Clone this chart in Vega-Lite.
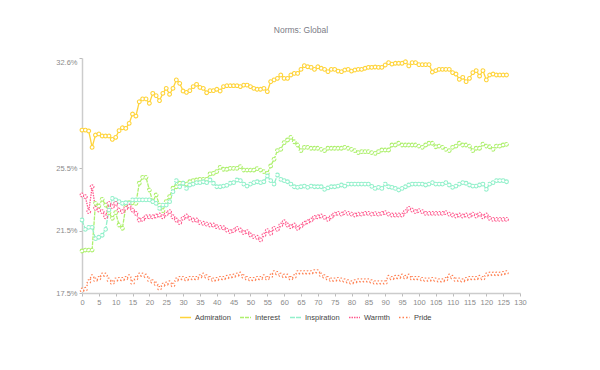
{
"$schema": "https://vega.github.io/schema/vega-lite/v6.json",
"width": 438,
"height": 235,
"autosize": {"type": "none"},
"padding": {"left": 82, "top": 58, "right": 80, "bottom": 77},
"background": "white",
"title": {"text": "Norms: Global", "fontSize": 8.5, "font": "Liberation Sans", "fontWeight": "normal", "color": "#7b7b86", "anchor": "middle", "baseline": "bottom", "offset": 14},
"config": {
  "view": {"stroke": null},
  "axis": {"grid": false, "domainColor": "#cccccc", "domainWidth": 1.5, "tickColor": "#bbbbbb", "tickSize": 3, "labelFont": "Liberation Sans", "labelFontSize": 7.5, "labelColor": "#8a8a8a", "title": null},
  "legend": {"orient": "none", "legendX": 97, "legendY": 253, "direction": "horizontal", "labelFont": "Liberation Sans", "labelFontSize": 7.5, "labelColor": "#444444", "symbolSize": 121, "symbolStrokeWidth": 1.5, "columnPadding": 6, "labelOffset": 3, "title": null}
},
"data": {"values": [
{"s":"Admiration","x":0,"v":27.97},{"s":"Admiration","x":1,"v":27.97},{"s":"Admiration","x":2,"v":27.91},{"s":"Admiration","x":3,"v":26.86},{"s":"Admiration","x":4,"v":27.65},{"s":"Admiration","x":5,"v":27.72},{"s":"Admiration","x":6,"v":27.59},{"s":"Admiration","x":7,"v":27.59},{"s":"Admiration","x":8,"v":27.59},{"s":"Admiration","x":9,"v":27.37},
{"s":"Admiration","x":10,"v":27.50},{"s":"Admiration","x":11,"v":27.93},{"s":"Admiration","x":12,"v":28.12},{"s":"Admiration","x":13,"v":28.08},{"s":"Admiration","x":14,"v":28.40},{"s":"Admiration","x":15,"v":29.00},{"s":"Admiration","x":16,"v":28.87},{"s":"Admiration","x":17,"v":29.79},{"s":"Admiration","x":18,"v":29.97},{"s":"Admiration","x":19,"v":29.97},
{"s":"Admiration","x":20,"v":29.69},{"s":"Admiration","x":21,"v":30.33},{"s":"Admiration","x":22,"v":30.18},{"s":"Admiration","x":23,"v":29.86},{"s":"Admiration","x":24,"v":30.33},{"s":"Admiration","x":25,"v":30.65},{"s":"Admiration","x":26,"v":30.27},{"s":"Admiration","x":27,"v":30.65},{"s":"Admiration","x":28,"v":31.19},{"s":"Admiration","x":29,"v":30.97},
{"s":"Admiration","x":30,"v":30.48},{"s":"Admiration","x":31,"v":30.39},{"s":"Admiration","x":32,"v":30.50},{"s":"Admiration","x":33,"v":30.76},{"s":"Admiration","x":34,"v":30.91},{"s":"Admiration","x":35,"v":30.71},{"s":"Admiration","x":36,"v":30.65},{"s":"Admiration","x":37,"v":30.37},{"s":"Admiration","x":38,"v":30.50},{"s":"Admiration","x":39,"v":30.50},
{"s":"Admiration","x":40,"v":30.59},{"s":"Admiration","x":41,"v":30.48},{"s":"Admiration","x":42,"v":30.76},{"s":"Admiration","x":43,"v":30.82},{"s":"Admiration","x":44,"v":30.82},{"s":"Admiration","x":45,"v":30.82},{"s":"Admiration","x":46,"v":30.82},{"s":"Admiration","x":47,"v":30.76},{"s":"Admiration","x":48,"v":30.86},{"s":"Admiration","x":49,"v":30.86},
{"s":"Admiration","x":50,"v":30.76},{"s":"Admiration","x":51,"v":30.65},{"s":"Admiration","x":52,"v":30.59},{"s":"Admiration","x":53,"v":30.59},{"s":"Admiration","x":54,"v":30.65},{"s":"Admiration","x":55,"v":30.44},{"s":"Admiration","x":56,"v":31.08},{"s":"Admiration","x":57,"v":31.19},{"s":"Admiration","x":58,"v":31.29},{"s":"Admiration","x":59,"v":31.51},
{"s":"Admiration","x":60,"v":31.29},{"s":"Admiration","x":61,"v":31.29},{"s":"Admiration","x":62,"v":31.51},{"s":"Admiration","x":63,"v":31.61},{"s":"Admiration","x":64,"v":31.61},{"s":"Admiration","x":65,"v":31.87},{"s":"Admiration","x":66,"v":32.11},{"s":"Admiration","x":67,"v":32.04},{"s":"Admiration","x":68,"v":32.00},{"s":"Admiration","x":69,"v":31.87},
{"s":"Admiration","x":70,"v":32.04},{"s":"Admiration","x":71,"v":31.94},{"s":"Admiration","x":72,"v":31.87},{"s":"Admiration","x":73,"v":31.72},{"s":"Admiration","x":74,"v":31.87},{"s":"Admiration","x":75,"v":31.87},{"s":"Admiration","x":76,"v":31.76},{"s":"Admiration","x":77,"v":31.72},{"s":"Admiration","x":78,"v":31.83},{"s":"Admiration","x":79,"v":31.87},
{"s":"Admiration","x":80,"v":31.76},{"s":"Admiration","x":81,"v":31.83},{"s":"Admiration","x":82,"v":31.87},{"s":"Admiration","x":83,"v":31.87},{"s":"Admiration","x":84,"v":31.94},{"s":"Admiration","x":85,"v":32.00},{"s":"Admiration","x":86,"v":32.00},{"s":"Admiration","x":87,"v":32.02},{"s":"Admiration","x":88,"v":32.00},{"s":"Admiration","x":89,"v":32.00},
{"s":"Admiration","x":90,"v":32.15},{"s":"Admiration","x":91,"v":32.30},{"s":"Admiration","x":92,"v":32.21},{"s":"Admiration","x":93,"v":32.26},{"s":"Admiration","x":94,"v":32.26},{"s":"Admiration","x":95,"v":32.26},{"s":"Admiration","x":96,"v":32.36},{"s":"Admiration","x":97,"v":32.09},{"s":"Admiration","x":98,"v":32.30},{"s":"Admiration","x":99,"v":32.30},
{"s":"Admiration","x":100,"v":32.17},{"s":"Admiration","x":101,"v":32.17},{"s":"Admiration","x":102,"v":32.17},{"s":"Admiration","x":103,"v":32.17},{"s":"Admiration","x":104,"v":31.70},{"s":"Admiration","x":105,"v":31.79},{"s":"Admiration","x":106,"v":31.87},{"s":"Admiration","x":107,"v":31.87},{"s":"Admiration","x":108,"v":31.87},{"s":"Admiration","x":109,"v":31.87},
{"s":"Admiration","x":110,"v":31.66},{"s":"Admiration","x":111,"v":31.57},{"s":"Admiration","x":112,"v":31.23},{"s":"Admiration","x":113,"v":31.36},{"s":"Admiration","x":114,"v":31.08},{"s":"Admiration","x":115,"v":31.29},{"s":"Admiration","x":116,"v":31.66},{"s":"Admiration","x":117,"v":31.79},{"s":"Admiration","x":118,"v":31.44},{"s":"Admiration","x":119,"v":31.79},
{"s":"Admiration","x":120,"v":31.19},{"s":"Admiration","x":121,"v":31.51},{"s":"Admiration","x":122,"v":31.57},{"s":"Admiration","x":123,"v":31.51},{"s":"Admiration","x":124,"v":31.51},{"s":"Admiration","x":125,"v":31.51},{"s":"Admiration","x":126,"v":31.51},

{"s":"Interest","x":0,"v":20.20},{"s":"Interest","x":1,"v":20.26},{"s":"Interest","x":2,"v":20.26},{"s":"Interest","x":3,"v":20.26},{"s":"Interest","x":4,"v":23.26},{"s":"Interest","x":5,"v":23.09},{"s":"Interest","x":6,"v":23.52},{"s":"Interest","x":7,"v":23.15},{"s":"Interest","x":8,"v":22.66},{"s":"Interest","x":9,"v":22.30},
{"s":"Interest","x":10,"v":22.66},{"s":"Interest","x":11,"v":21.87},{"s":"Interest","x":12,"v":21.66},{"s":"Interest","x":13,"v":23.05},{"s":"Interest","x":14,"v":23.30},{"s":"Interest","x":15,"v":23.30},{"s":"Interest","x":16,"v":23.26},{"s":"Interest","x":17,"v":24.55},{"s":"Interest","x":18,"v":24.93},{"s":"Interest","x":19,"v":24.93},
{"s":"Interest","x":20,"v":24.12},{"s":"Interest","x":21,"v":23.37},{"s":"Interest","x":22,"v":23.80},{"s":"Interest","x":23,"v":23.15},{"s":"Interest","x":24,"v":22.79},{"s":"Interest","x":25,"v":23.37},{"s":"Interest","x":26,"v":23.69},{"s":"Interest","x":27,"v":24.23},{"s":"Interest","x":28,"v":24.33},{"s":"Interest","x":29,"v":24.55},
{"s":"Interest","x":30,"v":24.55},{"s":"Interest","x":31,"v":24.50},{"s":"Interest","x":32,"v":24.65},{"s":"Interest","x":33,"v":24.72},{"s":"Interest","x":34,"v":24.76},{"s":"Interest","x":35,"v":24.80},{"s":"Interest","x":36,"v":24.80},{"s":"Interest","x":37,"v":24.80},{"s":"Interest","x":38,"v":25.15},{"s":"Interest","x":39,"v":25.19},
{"s":"Interest","x":40,"v":25.30},{"s":"Interest","x":41,"v":25.57},{"s":"Interest","x":42,"v":25.45},{"s":"Interest","x":43,"v":25.45},{"s":"Interest","x":44,"v":25.51},{"s":"Interest","x":45,"v":25.51},{"s":"Interest","x":46,"v":25.51},{"s":"Interest","x":47,"v":25.62},{"s":"Interest","x":48,"v":25.40},{"s":"Interest","x":49,"v":25.40},
{"s":"Interest","x":50,"v":25.40},{"s":"Interest","x":51,"v":25.40},{"s":"Interest","x":52,"v":25.49},{"s":"Interest","x":53,"v":25.40},{"s":"Interest","x":54,"v":25.30},{"s":"Interest","x":55,"v":25.19},{"s":"Interest","x":56,"v":25.66},{"s":"Interest","x":57,"v":26.09},{"s":"Interest","x":58,"v":26.65},{"s":"Interest","x":59,"v":26.73},
{"s":"Interest","x":60,"v":27.16},{"s":"Interest","x":61,"v":27.33},{"s":"Interest","x":62,"v":27.50},{"s":"Interest","x":63,"v":27.22},{"s":"Interest","x":64,"v":27.01},{"s":"Interest","x":65,"v":26.65},{"s":"Interest","x":66,"v":26.86},{"s":"Interest","x":67,"v":26.86},{"s":"Interest","x":68,"v":26.80},{"s":"Interest","x":69,"v":26.80},
{"s":"Interest","x":70,"v":26.80},{"s":"Interest","x":71,"v":26.73},{"s":"Interest","x":72,"v":26.65},{"s":"Interest","x":73,"v":26.80},{"s":"Interest","x":74,"v":26.80},{"s":"Interest","x":75,"v":26.80},{"s":"Interest","x":76,"v":26.80},{"s":"Interest","x":77,"v":26.80},{"s":"Interest","x":78,"v":26.86},{"s":"Interest","x":79,"v":26.80},
{"s":"Interest","x":80,"v":26.73},{"s":"Interest","x":81,"v":26.65},{"s":"Interest","x":82,"v":26.52},{"s":"Interest","x":83,"v":26.58},{"s":"Interest","x":84,"v":26.58},{"s":"Interest","x":85,"v":26.58},{"s":"Interest","x":86,"v":26.52},{"s":"Interest","x":87,"v":26.47},{"s":"Interest","x":88,"v":26.58},{"s":"Interest","x":89,"v":26.69},
{"s":"Interest","x":90,"v":26.69},{"s":"Interest","x":91,"v":26.69},{"s":"Interest","x":92,"v":27.01},{"s":"Interest","x":93,"v":27.01},{"s":"Interest","x":94,"v":27.12},{"s":"Interest","x":95,"v":27.01},{"s":"Interest","x":96,"v":27.01},{"s":"Interest","x":97,"v":27.01},{"s":"Interest","x":98,"v":27.01},{"s":"Interest","x":99,"v":27.01},
{"s":"Interest","x":100,"v":26.94},{"s":"Interest","x":101,"v":26.86},{"s":"Interest","x":102,"v":27.01},{"s":"Interest","x":103,"v":27.12},{"s":"Interest","x":104,"v":27.12},{"s":"Interest","x":105,"v":26.90},{"s":"Interest","x":106,"v":26.94},{"s":"Interest","x":107,"v":26.86},{"s":"Interest","x":108,"v":26.73},{"s":"Interest","x":109,"v":26.65},
{"s":"Interest","x":110,"v":26.86},{"s":"Interest","x":111,"v":26.94},{"s":"Interest","x":112,"v":27.12},{"s":"Interest","x":113,"v":27.01},{"s":"Interest","x":114,"v":27.01},{"s":"Interest","x":115,"v":26.94},{"s":"Interest","x":116,"v":26.65},{"s":"Interest","x":117,"v":26.80},{"s":"Interest","x":118,"v":26.80},{"s":"Interest","x":119,"v":27.07},
{"s":"Interest","x":120,"v":26.94},{"s":"Interest","x":121,"v":26.90},{"s":"Interest","x":122,"v":26.73},{"s":"Interest","x":123,"v":26.94},{"s":"Interest","x":124,"v":26.94},{"s":"Interest","x":125,"v":27.01},{"s":"Interest","x":126,"v":27.05},

{"s":"Inspiration","x":0,"v":22.19},{"s":"Inspiration","x":1,"v":21.59},{"s":"Inspiration","x":2,"v":21.72},{"s":"Inspiration","x":3,"v":21.72},{"s":"Inspiration","x":4,"v":20.99},{"s":"Inspiration","x":5,"v":21.08},{"s":"Inspiration","x":6,"v":21.21},{"s":"Inspiration","x":7,"v":21.59},{"s":"Inspiration","x":8,"v":22.83},{"s":"Inspiration","x":9,"v":23.58},
{"s":"Inspiration","x":10,"v":23.48},{"s":"Inspiration","x":11,"v":23.37},{"s":"Inspiration","x":12,"v":23.26},{"s":"Inspiration","x":13,"v":23.30},{"s":"Inspiration","x":14,"v":23.26},{"s":"Inspiration","x":15,"v":23.48},{"s":"Inspiration","x":16,"v":23.48},{"s":"Inspiration","x":17,"v":23.48},{"s":"Inspiration","x":18,"v":23.48},{"s":"Inspiration","x":19,"v":23.48},
{"s":"Inspiration","x":20,"v":23.48},{"s":"Inspiration","x":21,"v":23.37},{"s":"Inspiration","x":22,"v":23.26},{"s":"Inspiration","x":23,"v":22.94},{"s":"Inspiration","x":24,"v":23.15},{"s":"Inspiration","x":25,"v":23.15},{"s":"Inspiration","x":26,"v":23.37},{"s":"Inspiration","x":27,"v":24.01},{"s":"Inspiration","x":28,"v":24.72},{"s":"Inspiration","x":29,"v":24.33},
{"s":"Inspiration","x":30,"v":24.55},{"s":"Inspiration","x":31,"v":24.22},{"s":"Inspiration","x":32,"v":24.44},{"s":"Inspiration","x":33,"v":24.50},{"s":"Inspiration","x":34,"v":24.59},{"s":"Inspiration","x":35,"v":24.59},{"s":"Inspiration","x":36,"v":24.65},{"s":"Inspiration","x":37,"v":24.59},{"s":"Inspiration","x":38,"v":24.76},{"s":"Inspiration","x":39,"v":24.55},
{"s":"Inspiration","x":40,"v":24.33},{"s":"Inspiration","x":41,"v":24.33},{"s":"Inspiration","x":42,"v":24.37},{"s":"Inspiration","x":43,"v":24.42},{"s":"Inspiration","x":44,"v":24.55},{"s":"Inspiration","x":45,"v":24.59},{"s":"Inspiration","x":46,"v":24.76},{"s":"Inspiration","x":47,"v":24.72},{"s":"Inspiration","x":48,"v":24.50},{"s":"Inspiration","x":49,"v":24.37},
{"s":"Inspiration","x":50,"v":24.50},{"s":"Inspiration","x":51,"v":24.59},{"s":"Inspiration","x":52,"v":24.65},{"s":"Inspiration","x":53,"v":24.59},{"s":"Inspiration","x":54,"v":24.65},{"s":"Inspiration","x":55,"v":25.02},{"s":"Inspiration","x":56,"v":24.72},{"s":"Inspiration","x":57,"v":24.50},{"s":"Inspiration","x":58,"v":25.08},{"s":"Inspiration","x":59,"v":24.80},
{"s":"Inspiration","x":60,"v":24.72},{"s":"Inspiration","x":61,"v":24.65},{"s":"Inspiration","x":62,"v":24.50},{"s":"Inspiration","x":63,"v":24.33},{"s":"Inspiration","x":64,"v":24.29},{"s":"Inspiration","x":65,"v":24.33},{"s":"Inspiration","x":66,"v":24.37},{"s":"Inspiration","x":67,"v":24.29},{"s":"Inspiration","x":68,"v":24.37},{"s":"Inspiration","x":69,"v":24.33},
{"s":"Inspiration","x":70,"v":24.33},{"s":"Inspiration","x":71,"v":24.33},{"s":"Inspiration","x":72,"v":24.16},{"s":"Inspiration","x":73,"v":24.25},{"s":"Inspiration","x":74,"v":24.33},{"s":"Inspiration","x":75,"v":24.33},{"s":"Inspiration","x":76,"v":24.37},{"s":"Inspiration","x":77,"v":24.44},{"s":"Inspiration","x":78,"v":24.37},{"s":"Inspiration","x":79,"v":24.50},
{"s":"Inspiration","x":80,"v":24.50},{"s":"Inspiration","x":81,"v":24.50},{"s":"Inspiration","x":82,"v":24.50},{"s":"Inspiration","x":83,"v":24.50},{"s":"Inspiration","x":84,"v":24.50},{"s":"Inspiration","x":85,"v":24.50},{"s":"Inspiration","x":86,"v":24.35},{"s":"Inspiration","x":87,"v":24.22},{"s":"Inspiration","x":88,"v":24.29},{"s":"Inspiration","x":89,"v":24.22},
{"s":"Inspiration","x":90,"v":24.50},{"s":"Inspiration","x":91,"v":24.33},{"s":"Inspiration","x":92,"v":24.29},{"s":"Inspiration","x":93,"v":24.22},{"s":"Inspiration","x":94,"v":24.12},{"s":"Inspiration","x":95,"v":24.22},{"s":"Inspiration","x":96,"v":24.33},{"s":"Inspiration","x":97,"v":24.44},{"s":"Inspiration","x":98,"v":24.50},{"s":"Inspiration","x":99,"v":24.50},
{"s":"Inspiration","x":100,"v":24.50},{"s":"Inspiration","x":101,"v":24.50},{"s":"Inspiration","x":102,"v":24.44},{"s":"Inspiration","x":103,"v":24.50},{"s":"Inspiration","x":104,"v":24.59},{"s":"Inspiration","x":105,"v":24.50},{"s":"Inspiration","x":106,"v":24.50},{"s":"Inspiration","x":107,"v":24.50},{"s":"Inspiration","x":108,"v":24.59},{"s":"Inspiration","x":109,"v":24.44},
{"s":"Inspiration","x":110,"v":24.29},{"s":"Inspiration","x":111,"v":24.37},{"s":"Inspiration","x":112,"v":24.50},{"s":"Inspiration","x":113,"v":24.59},{"s":"Inspiration","x":114,"v":24.55},{"s":"Inspiration","x":115,"v":24.44},{"s":"Inspiration","x":116,"v":24.37},{"s":"Inspiration","x":117,"v":24.37},{"s":"Inspiration","x":118,"v":24.44},{"s":"Inspiration","x":119,"v":24.50},
{"s":"Inspiration","x":120,"v":24.16},{"s":"Inspiration","x":121,"v":24.50},{"s":"Inspiration","x":122,"v":24.59},{"s":"Inspiration","x":123,"v":24.72},{"s":"Inspiration","x":124,"v":24.72},{"s":"Inspiration","x":125,"v":24.72},{"s":"Inspiration","x":126,"v":24.65},

{"s":"Warmth","x":0,"v":23.80},{"s":"Warmth","x":1,"v":23.69},{"s":"Warmth","x":2,"v":22.73},{"s":"Warmth","x":3,"v":24.33},{"s":"Warmth","x":4,"v":22.94},{"s":"Warmth","x":5,"v":22.83},{"s":"Warmth","x":6,"v":22.73},{"s":"Warmth","x":7,"v":22.40},{"s":"Warmth","x":8,"v":23.26},{"s":"Warmth","x":9,"v":23.05},
{"s":"Warmth","x":10,"v":23.26},{"s":"Warmth","x":11,"v":22.83},{"s":"Warmth","x":12,"v":22.73},{"s":"Warmth","x":13,"v":22.94},{"s":"Warmth","x":14,"v":23.09},{"s":"Warmth","x":15,"v":22.83},{"s":"Warmth","x":16,"v":22.62},{"s":"Warmth","x":17,"v":22.19},{"s":"Warmth","x":18,"v":22.23},{"s":"Warmth","x":19,"v":22.40},
{"s":"Warmth","x":20,"v":22.40},{"s":"Warmth","x":21,"v":22.40},{"s":"Warmth","x":22,"v":22.45},{"s":"Warmth","x":23,"v":22.51},{"s":"Warmth","x":24,"v":22.40},{"s":"Warmth","x":25,"v":22.57},{"s":"Warmth","x":26,"v":22.73},{"s":"Warmth","x":27,"v":22.40},{"s":"Warmth","x":28,"v":22.19},{"s":"Warmth","x":29,"v":22.02},
{"s":"Warmth","x":30,"v":22.30},{"s":"Warmth","x":31,"v":22.45},{"s":"Warmth","x":32,"v":22.30},{"s":"Warmth","x":33,"v":22.19},{"s":"Warmth","x":34,"v":22.19},{"s":"Warmth","x":35,"v":22.02},{"s":"Warmth","x":36,"v":21.98},{"s":"Warmth","x":37,"v":21.93},{"s":"Warmth","x":38,"v":21.87},{"s":"Warmth","x":39,"v":21.87},
{"s":"Warmth","x":40,"v":21.76},{"s":"Warmth","x":41,"v":21.72},{"s":"Warmth","x":42,"v":21.69},{"s":"Warmth","x":43,"v":21.54},{"s":"Warmth","x":44,"v":21.44},{"s":"Warmth","x":45,"v":21.51},{"s":"Warmth","x":46,"v":21.65},{"s":"Warmth","x":47,"v":21.55},{"s":"Warmth","x":48,"v":21.38},{"s":"Warmth","x":49,"v":21.44},
{"s":"Warmth","x":50,"v":21.23},{"s":"Warmth","x":51,"v":21.12},{"s":"Warmth","x":52,"v":21.08},{"s":"Warmth","x":53,"v":20.91},{"s":"Warmth","x":54,"v":21.23},{"s":"Warmth","x":55,"v":21.51},{"s":"Warmth","x":56,"v":21.33},{"s":"Warmth","x":57,"v":21.65},{"s":"Warmth","x":58,"v":21.59},{"s":"Warmth","x":59,"v":21.87},
{"s":"Warmth","x":60,"v":22.08},{"s":"Warmth","x":61,"v":21.87},{"s":"Warmth","x":62,"v":21.76},{"s":"Warmth","x":63,"v":21.87},{"s":"Warmth","x":64,"v":21.65},{"s":"Warmth","x":65,"v":21.80},{"s":"Warmth","x":66,"v":21.98},{"s":"Warmth","x":67,"v":22.08},{"s":"Warmth","x":68,"v":22.19},{"s":"Warmth","x":69,"v":22.36},
{"s":"Warmth","x":70,"v":22.40},{"s":"Warmth","x":71,"v":22.45},{"s":"Warmth","x":72,"v":22.36},{"s":"Warmth","x":73,"v":22.23},{"s":"Warmth","x":74,"v":22.40},{"s":"Warmth","x":75,"v":22.57},{"s":"Warmth","x":76,"v":22.62},{"s":"Warmth","x":77,"v":22.57},{"s":"Warmth","x":78,"v":22.66},{"s":"Warmth","x":79,"v":22.62},
{"s":"Warmth","x":80,"v":22.57},{"s":"Warmth","x":81,"v":22.51},{"s":"Warmth","x":82,"v":22.57},{"s":"Warmth","x":83,"v":22.57},{"s":"Warmth","x":84,"v":22.62},{"s":"Warmth","x":85,"v":22.62},{"s":"Warmth","x":86,"v":22.57},{"s":"Warmth","x":87,"v":22.60},{"s":"Warmth","x":88,"v":22.57},{"s":"Warmth","x":89,"v":22.62},
{"s":"Warmth","x":90,"v":22.66},{"s":"Warmth","x":91,"v":22.57},{"s":"Warmth","x":92,"v":22.51},{"s":"Warmth","x":93,"v":22.51},{"s":"Warmth","x":94,"v":22.51},{"s":"Warmth","x":95,"v":22.51},{"s":"Warmth","x":96,"v":22.73},{"s":"Warmth","x":97,"v":22.94},{"s":"Warmth","x":98,"v":22.83},{"s":"Warmth","x":99,"v":22.73},
{"s":"Warmth","x":100,"v":22.79},{"s":"Warmth","x":101,"v":22.73},{"s":"Warmth","x":102,"v":22.62},{"s":"Warmth","x":103,"v":22.62},{"s":"Warmth","x":104,"v":22.62},{"s":"Warmth","x":105,"v":22.62},{"s":"Warmth","x":106,"v":22.62},{"s":"Warmth","x":107,"v":22.62},{"s":"Warmth","x":108,"v":22.66},{"s":"Warmth","x":109,"v":22.57},
{"s":"Warmth","x":110,"v":22.51},{"s":"Warmth","x":111,"v":22.45},{"s":"Warmth","x":112,"v":22.51},{"s":"Warmth","x":113,"v":22.45},{"s":"Warmth","x":114,"v":22.51},{"s":"Warmth","x":115,"v":22.45},{"s":"Warmth","x":116,"v":22.57},{"s":"Warmth","x":117,"v":22.45},{"s":"Warmth","x":118,"v":22.57},{"s":"Warmth","x":119,"v":22.40},
{"s":"Warmth","x":120,"v":22.51},{"s":"Warmth","x":121,"v":22.30},{"s":"Warmth","x":122,"v":22.23},{"s":"Warmth","x":123,"v":22.23},{"s":"Warmth","x":124,"v":22.23},{"s":"Warmth","x":125,"v":22.23},{"s":"Warmth","x":126,"v":22.23},

{"s":"Pride","x":0,"v":17.69},{"s":"Pride","x":1,"v":17.74},{"s":"Pride","x":2,"v":18.23},{"s":"Pride","x":3,"v":18.55},{"s":"Pride","x":4,"v":18.34},{"s":"Pride","x":5,"v":18.44},{"s":"Pride","x":6,"v":18.66},{"s":"Pride","x":7,"v":18.66},{"s":"Pride","x":8,"v":18.34},{"s":"Pride","x":9,"v":18.16},
{"s":"Pride","x":10,"v":18.34},{"s":"Pride","x":11,"v":18.38},{"s":"Pride","x":12,"v":18.38},{"s":"Pride","x":13,"v":18.44},{"s":"Pride","x":14,"v":18.55},{"s":"Pride","x":15,"v":18.16},{"s":"Pride","x":16,"v":18.44},{"s":"Pride","x":17,"v":18.66},{"s":"Pride","x":18,"v":18.66},{"s":"Pride","x":19,"v":18.59},
{"s":"Pride","x":20,"v":18.34},{"s":"Pride","x":21,"v":18.23},{"s":"Pride","x":22,"v":18.08},{"s":"Pride","x":23,"v":17.80},{"s":"Pride","x":24,"v":18.01},{"s":"Pride","x":25,"v":18.08},{"s":"Pride","x":26,"v":18.16},{"s":"Pride","x":27,"v":18.01},{"s":"Pride","x":28,"v":18.34},{"s":"Pride","x":29,"v":18.44},
{"s":"Pride","x":30,"v":18.44},{"s":"Pride","x":31,"v":18.38},{"s":"Pride","x":32,"v":18.44},{"s":"Pride","x":33,"v":18.44},{"s":"Pride","x":34,"v":18.44},{"s":"Pride","x":35,"v":18.55},{"s":"Pride","x":36,"v":18.66},{"s":"Pride","x":37,"v":18.55},{"s":"Pride","x":38,"v":18.44},{"s":"Pride","x":39,"v":18.34},
{"s":"Pride","x":40,"v":18.38},{"s":"Pride","x":41,"v":18.44},{"s":"Pride","x":42,"v":18.44},{"s":"Pride","x":43,"v":18.51},{"s":"Pride","x":44,"v":18.55},{"s":"Pride","x":45,"v":18.59},{"s":"Pride","x":46,"v":18.66},{"s":"Pride","x":47,"v":18.72},{"s":"Pride","x":48,"v":18.55},{"s":"Pride","x":49,"v":18.44},
{"s":"Pride","x":50,"v":18.38},{"s":"Pride","x":51,"v":18.38},{"s":"Pride","x":52,"v":18.44},{"s":"Pride","x":53,"v":18.44},{"s":"Pride","x":54,"v":18.55},{"s":"Pride","x":55,"v":18.44},{"s":"Pride","x":56,"v":18.59},{"s":"Pride","x":57,"v":18.81},{"s":"Pride","x":58,"v":18.76},{"s":"Pride","x":59,"v":18.66},
{"s":"Pride","x":60,"v":18.59},{"s":"Pride","x":61,"v":18.59},{"s":"Pride","x":62,"v":18.44},{"s":"Pride","x":63,"v":18.55},{"s":"Pride","x":64,"v":18.81},{"s":"Pride","x":65,"v":18.81},{"s":"Pride","x":66,"v":18.81},{"s":"Pride","x":67,"v":18.81},{"s":"Pride","x":68,"v":18.81},{"s":"Pride","x":69,"v":18.87},
{"s":"Pride","x":70,"v":18.87},{"s":"Pride","x":71,"v":18.66},{"s":"Pride","x":72,"v":18.55},{"s":"Pride","x":73,"v":18.44},{"s":"Pride","x":74,"v":18.34},{"s":"Pride","x":75,"v":18.34},{"s":"Pride","x":76,"v":18.38},{"s":"Pride","x":77,"v":18.34},{"s":"Pride","x":78,"v":18.29},{"s":"Pride","x":79,"v":18.23},
{"s":"Pride","x":80,"v":18.16},{"s":"Pride","x":81,"v":18.23},{"s":"Pride","x":82,"v":18.29},{"s":"Pride","x":83,"v":18.29},{"s":"Pride","x":84,"v":18.29},{"s":"Pride","x":85,"v":18.29},{"s":"Pride","x":86,"v":18.23},{"s":"Pride","x":87,"v":18.16},{"s":"Pride","x":88,"v":18.16},{"s":"Pride","x":89,"v":18.16},
{"s":"Pride","x":90,"v":18.16},{"s":"Pride","x":91,"v":18.51},{"s":"Pride","x":92,"v":18.44},{"s":"Pride","x":93,"v":18.51},{"s":"Pride","x":94,"v":18.51},{"s":"Pride","x":95,"v":18.59},{"s":"Pride","x":96,"v":18.51},{"s":"Pride","x":97,"v":18.59},{"s":"Pride","x":98,"v":18.44},{"s":"Pride","x":99,"v":18.44},
{"s":"Pride","x":100,"v":18.44},{"s":"Pride","x":101,"v":18.38},{"s":"Pride","x":102,"v":18.34},{"s":"Pride","x":103,"v":18.34},{"s":"Pride","x":104,"v":18.38},{"s":"Pride","x":105,"v":18.34},{"s":"Pride","x":106,"v":18.29},{"s":"Pride","x":107,"v":18.29},{"s":"Pride","x":108,"v":18.38},{"s":"Pride","x":109,"v":18.59},
{"s":"Pride","x":110,"v":18.51},{"s":"Pride","x":111,"v":18.34},{"s":"Pride","x":112,"v":18.34},{"s":"Pride","x":113,"v":18.29},{"s":"Pride","x":114,"v":18.38},{"s":"Pride","x":115,"v":18.44},{"s":"Pride","x":116,"v":18.44},{"s":"Pride","x":117,"v":18.44},{"s":"Pride","x":118,"v":18.51},{"s":"Pride","x":119,"v":18.44},
{"s":"Pride","x":120,"v":18.66},{"s":"Pride","x":121,"v":18.72},{"s":"Pride","x":122,"v":18.72},{"s":"Pride","x":123,"v":18.72},{"s":"Pride","x":124,"v":18.72},{"s":"Pride","x":125,"v":18.76},{"s":"Pride","x":126,"v":18.81}
]},
"encoding": {
  "x": {"field": "x", "type": "quantitative", "scale": {"domain": [0, 130], "nice": false}, "axis": {"values": [0,5,10,15,20,25,30,35,40,45,50,55,60,65,70,75,80,85,90,95,100,105,110,115,120,125,130], "labelPadding": 2, "labelFlush": false}},
  "y": {"field": "v", "type": "quantitative", "scale": {"domain": [17.5, 32.6], "nice": false, "zero": false}, "axis": {"values": [17.5, 21.5, 25.5, 32.6], "labelExpr": "format(datum.value, '.1f') + '%'", "labelPadding": 2, "labelBaseline": {"condition": {"test": "datum.value > 32", "value": "top"}, "value": "middle"}}}
},
"layer": [
  {
    "mark": {"type": "line", "strokeWidth": 1.3},
    "encoding": {
      "color": {"field": "s", "type": "nominal", "scale": {"domain": ["Admiration", "Interest", "Inspiration", "Warmth", "Pride"], "range": ["#FFD43B", "#AEF06E", "#93F0CB", "#FF5A8E", "#FF7F50"]}, "legend": {"symbolType": "stroke", "title": null}},
      "strokeDash": {"field": "s", "type": "nominal", "scale": {"domain": ["Admiration", "Interest", "Inspiration", "Warmth", "Pride"], "range": [[1, 0], [4, 1], [5, 1], [1.5, 1], [1.5, 2]]}, "legend": {"symbolType": "stroke", "title": null}}
    }
  },
  {
    "mark": {"type": "point", "shape": "circle", "size": 14, "filled": true, "fill": "white", "strokeWidth": 1.1, "opacity": 1},
    "encoding": {
      "stroke": {"field": "s", "type": "nominal", "scale": {"domain": ["Admiration", "Interest", "Inspiration", "Warmth", "Pride"], "range": ["#FFD43B", "#AEF06E", "#93F0CB", "#FF5A8E", "#FF7F50"]}, "legend": null},
      "strokeDash": {"field": "s", "type": "nominal", "legend": {"symbolType": "stroke", "title": null}}
    }
  }
]
}
